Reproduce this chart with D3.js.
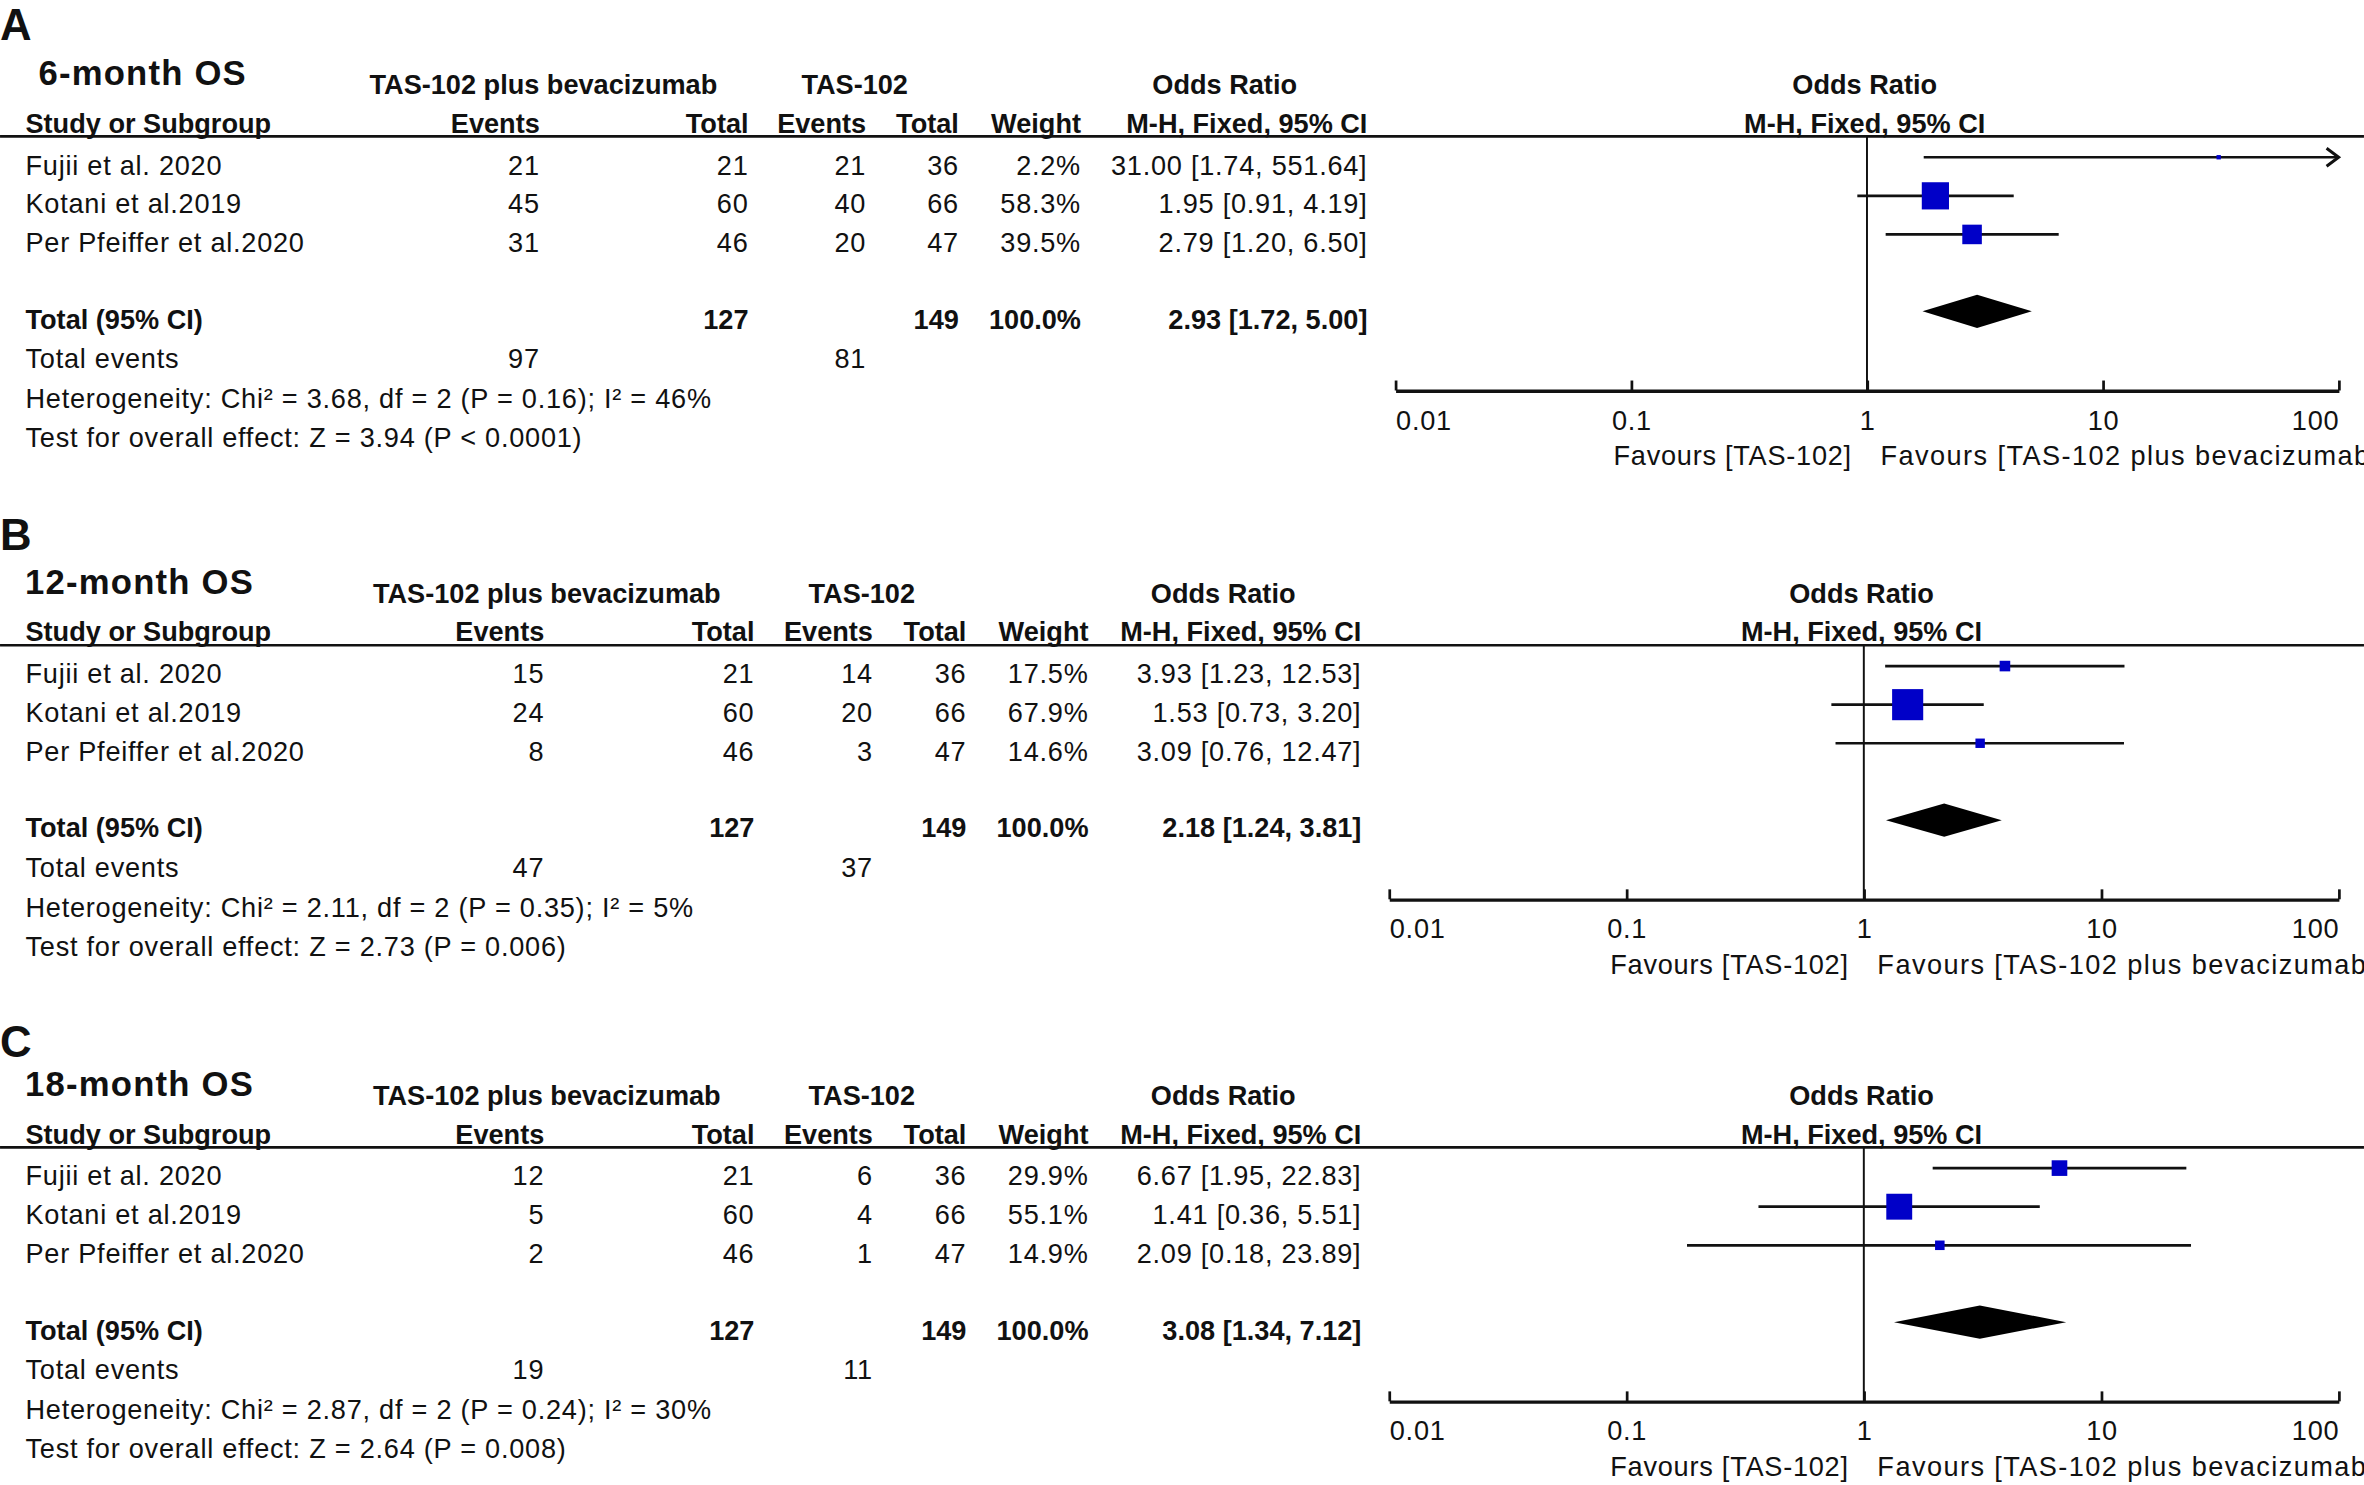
<!DOCTYPE html>
<html><head><meta charset="utf-8">
<script src="https://cdn.jsdelivr.net/npm/d3@7"></script>
<style>
body{margin:0;background:#fff;}
svg{display:block;}
text{font-family:"Liberation Sans",Arial,Helvetica,sans-serif;fill:#111;}
.n{font-size:18px;letter-spacing:0.5px;}
.f{font-size:18px;letter-spacing:0.95px;}
.b{font-size:18px;font-weight:bold;}
</style></head><body>
<svg id="c"></svg>
<script>
// ---------------- DATA ----------------
const panelLetters = ["A", "B", "C"];
const panelTitles = ["6-month OS", "12-month OS", "18-month OS"];
const studies = ["Fujii et al. 2020", "Kotani et al.2019", "Per Pfeiffer et al.2020"];
const expEvents = [[21, 45, 31], [15, 24, 8], [12, 5, 2]];
const expTotal = [21, 60, 46];
const ctrlEvents = [[21, 40, 20], [14, 20, 3], [6, 4, 1]];
const ctrlTotal = [36, 66, 47];
const weights = [[2.2, 58.3, 39.5], [17.5, 67.9, 14.6], [29.9, 55.1, 14.9]];
const oddsRatio = [[31.00, 1.95, 2.79], [3.93, 1.53, 3.09], [6.67, 1.41, 2.09]];
const ciLow = [[1.74, 0.91, 1.20], [1.23, 0.73, 0.76], [1.95, 0.36, 0.18]];
const ciHigh = [[551.64, 4.19, 6.50], [12.53, 3.20, 12.47], [22.83, 5.51, 23.89]];
const totalWeight = [100.0, 100.0, 100.0];
const totalOR = [2.93, 2.18, 3.08];
const totalLow = [1.72, 1.24, 1.34];
const totalHigh = [5.00, 3.81, 7.12];
const heterogeneity = [
  "Heterogeneity: Chi² = 3.68, df = 2 (P = 0.16); I² = 46%",
  "Heterogeneity: Chi² = 2.11, df = 2 (P = 0.35); I² = 5%",
  "Heterogeneity: Chi² = 2.87, df = 2 (P = 0.24); I² = 30%"
];
const overallEffect = [
  "Test for overall effect: Z = 3.94 (P < 0.0001)",
  "Test for overall effect: Z = 2.73 (P = 0.006)",
  "Test for overall effect: Z = 2.64 (P = 0.008)"
];
const axisTicks = [0.01, 0.1, 1, 10, 100];
const axisTickLabels = ["0.01", "0.1", "1", "10", "100"];
const groupHeaders = ["TAS-102 plus bevacizumab", "TAS-102", "Odds Ratio"];
const colHeaders = ["Study or Subgroup", "Events", "Total", "Events", "Total", "Weight", "M-H, Fixed, 95% CI"];
const favoursLeft = "Favours [TAS-102]";
const favoursRight = "Favours [TAS-102 plus bevacizumab]";

// ---------------- LAYOUT ----------------
const VW = 1568, VH = 985;
const L = {
  offsets: [0, 337.5, 670.5],
  labelY: [26.5, 27.5, 30.5],
  titleX: [25.5, 16.6, 16.6],
  cols: [
    {ev1: 358, tot1: 496.5, ev2: 574.5, tot2: 636, w: 717, or: 907, h1: 360.4, h2: 566.9, h3: 812.3},
    {ev1: 361, tot1: 500.4, ev2: 579, tot2: 641, w: 722, or: 903, h1: 362.7, h2: 571.6, h3: 811.3},
    {ev1: 361, tot1: 500.4, ev2: 579, tot2: 641, w: 722, or: 903, h1: 362.7, h2: 571.6, h3: 811.3}
  ],
  xRange: [[925.5, 1551.2], [921.3, 1551.2], [921.3, 1551.2]],
  leftX: 16.9,
  titleY: 56.5, head1Y: 62.5, head2Y: 88, lineY: 90.5,
  row0Y: 115.8, rowStep: 25.6,
  totalY: 218, eventsY: 244, hetY: 270.5, testY: 296.5,
  axisY: 259, favY: 308.5, markOffset: 11.5, diamondHalf: 11
};

const svg = d3.select("#c")
  .attr("width", 2364).attr("height", 1485)
  .attr("viewBox", `0 0 ${VW} ${VH}`);
svg.append("rect").attr("width", VW).attr("height", VH).attr("fill", "#fff");

const sizeScale = d3.scaleLinear().domain([0, 100]).range([2.3, 29.3]);
const fmt2 = d3.format(".2f");
const fmt1 = d3.format(".1f");
const orText = (o, lo, hi) => `${fmt2(o)} [${fmt2(lo)}, ${fmt2(hi)}]`;

panelLetters.forEach((letter, p) => {
  const g = svg.append("g").attr("transform", `translate(0,${L.offsets[p]})`);
  const c = L.cols[p];

  g.append("text").attr("x", 0).attr("y", L.labelY[p])
    .style("font-size", "29px").style("font-weight", "bold").text(letter);
  g.append("text").attr("x", L.titleX[p]).attr("y", L.titleY)
    .style("font-size", "23px").style("font-weight", "bold").style("letter-spacing", "0.8px")
    .text(panelTitles[p]);

  // group headers
  [c.h1, c.h2, c.h3].forEach((hx, i) => {
    g.append("text").attr("class", "b").attr("x", hx).attr("y", L.head1Y)
      .attr("text-anchor", "middle").text(groupHeaders[i]);
  });
  // column headers
  g.append("text").attr("class", "b").attr("x", L.leftX).attr("y", L.head2Y).text(colHeaders[0]);
  [c.ev1, c.tot1, c.ev2, c.tot2, c.w, c.or].forEach((cx, i) => {
    g.append("text").attr("class", "b").attr("x", cx).attr("y", L.head2Y)
      .attr("text-anchor", "end").text(colHeaders[i + 1]);
  });
  g.append("line").attr("x1", 0).attr("x2", VW).attr("y1", L.lineY).attr("y2", L.lineY)
    .attr("stroke", "#111").attr("stroke-width", 1.8);

  // study rows
  studies.forEach((s, i) => {
    const y = L.row0Y + i * L.rowStep;
    g.append("text").attr("class", "n").attr("x", L.leftX).attr("y", y).text(s);
    const vals = [
      [c.ev1, expEvents[p][i]], [c.tot1, expTotal[i]], [c.ev2, ctrlEvents[p][i]],
      [c.tot2, ctrlTotal[i]], [c.w, fmt1(weights[p][i]) + "%"],
      [c.or, orText(oddsRatio[p][i], ciLow[p][i], ciHigh[p][i])]
    ];
    vals.forEach(([vx, v]) => g.append("text").attr("class", "n").attr("x", vx).attr("y", y)
      .attr("text-anchor", "end").text(v));
  });

  // total row
  g.append("text").attr("class", "b").attr("x", L.leftX).attr("y", L.totalY).text("Total (95% CI)");
  [[c.tot1, d3.sum(expTotal)], [c.tot2, d3.sum(ctrlTotal)], [c.w, fmt1(totalWeight[p]) + "%"],
   [c.or, orText(totalOR[p], totalLow[p], totalHigh[p])]].forEach(([vx, v]) =>
    g.append("text").attr("class", "b").attr("x", vx).attr("y", L.totalY).attr("text-anchor", "end").text(v));

  g.append("text").attr("class", "n").attr("x", L.leftX).attr("y", L.eventsY).text("Total events");
  g.append("text").attr("class", "n").attr("x", c.ev1).attr("y", L.eventsY).attr("text-anchor", "end")
    .text(d3.sum(expEvents[p]));
  g.append("text").attr("class", "n").attr("x", c.ev2).attr("y", L.eventsY).attr("text-anchor", "end")
    .text(d3.sum(ctrlEvents[p]));
  g.append("text").attr("class", "n").attr("x", L.leftX).attr("y", L.hetY).text(heterogeneity[p]);
  g.append("text").attr("class", "n").attr("x", L.leftX).attr("y", L.testY).text(overallEffect[p]);

  // ---------- forest plot ----------
  const x = d3.scaleLog().domain([axisTicks[0], axisTicks[axisTicks.length - 1]]).range(L.xRange[p]);
  const [dMin, dMax] = x.domain();
  const x1 = x(1);

  g.append("text").attr("class", "b").attr("x", x1 - 1.5).attr("y", L.head1Y)
    .attr("text-anchor", "middle").text("Odds Ratio");
  g.append("text").attr("class", "b").attr("x", x1 - 1.5).attr("y", L.head2Y)
    .attr("text-anchor", "middle").text(colHeaders[6]);

  g.append("line").attr("x1", x1).attr("x2", x1).attr("y1", L.lineY).attr("y2", L.axisY)
    .attr("stroke", "#111").attr("stroke-width", 1.3);

  const axis = d3.axisBottom(x).tickValues(axisTicks).tickSize(-6.6).tickSizeOuter(0)
    .tickPadding(13.2).tickFormat((d, i) => axisTickLabels[i]);
  const ax = g.append("g").attr("transform", `translate(0,${L.axisY})`).call(axis);
  ax.select(".domain").attr("stroke", "#111").attr("stroke-width", 2.2);
  ax.selectAll(".tick line").attr("stroke", "#111").attr("stroke-width", 1.8);
  ax.selectAll(".tick text")
    .attr("fill", "#111")
    .style("font-family", '"Liberation Sans",Arial,sans-serif')
    .style("font-size", "18px").style("letter-spacing", "0.5px")
    .attr("text-anchor", (d, i) => i === 0 ? "start" : (i === axisTicks.length - 1 ? "end" : "middle"));

  g.append("text").attr("class", "n").attr("x", x1 - 10).attr("y", L.favY)
    .attr("text-anchor", "end").text(favoursLeft);
  g.append("text").attr("class", "f").attr("x", x1 + 9).attr("y", L.favY).text(favoursRight);

  // CI lines
  studies.forEach((s, i) => {
    const cy = L.row0Y + i * L.rowStep - L.markOffset;
    const lo = Math.max(ciLow[p][i], dMin), hi = Math.min(ciHigh[p][i], dMax);
    g.append("line").attr("x1", x(lo)).attr("x2", x(hi)).attr("y1", cy).attr("y2", cy)
      .attr("stroke", "#111").attr("stroke-width", 1.8);
    if (ciHigh[p][i] > dMax) {
      const tx = x(dMax);
      g.append("path").attr("d", `M${tx - 8},${cy - 6}L${tx},${cy}L${tx - 8},${cy + 6}`)
        .attr("fill", "none").attr("stroke", "#111").attr("stroke-width", 2);
    }
    if (ciLow[p][i] < dMin) {
      const tx = x(dMin);
      g.append("path").attr("d", `M${tx + 8},${cy - 6}L${tx},${cy}L${tx + 8},${cy + 6}`)
        .attr("fill", "none").attr("stroke", "#111").attr("stroke-width", 2);
    }
  });
  // squares
  studies.forEach((s, i) => {
    const cy = L.row0Y + i * L.rowStep - L.markOffset;
    const side = sizeScale(weights[p][i]);
    g.append("rect").attr("x", x(oddsRatio[p][i]) - side / 2).attr("y", cy - side / 2)
      .attr("width", side).attr("height", side).attr("fill", "#0000c8");
  });
  // diamond
  const dy = L.totalY - L.markOffset;
  g.append("path")
    .attr("d", `M${x(totalLow[p])},${dy}L${x(totalOR[p])},${dy - L.diamondHalf}L${x(totalHigh[p])},${dy}L${x(totalOR[p])},${dy + L.diamondHalf}Z`)
    .attr("fill", "#000");
});
</script>
</body></html>
